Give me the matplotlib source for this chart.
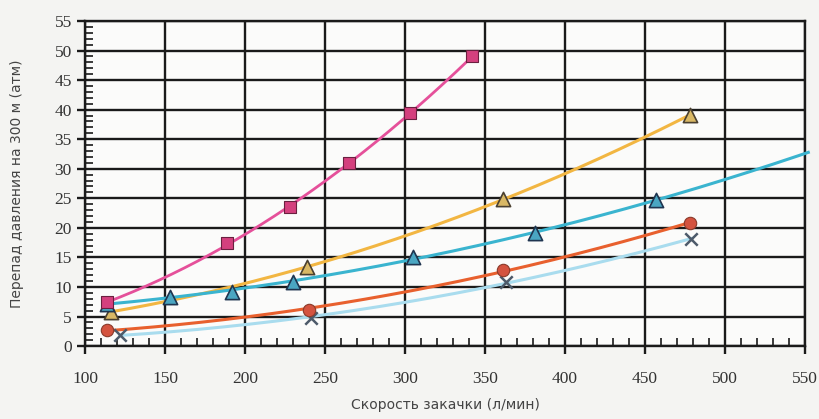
import numpy as np
import matplotlib
matplotlib.use("Agg")
import matplotlib.pyplot as plt
from matplotlib.ticker import MultipleLocator

# Data
pink_x = [114, 189, 228, 265, 303, 342]
pink_y = [7.4, 17.4, 23.5, 30.9, 39.4, 49.0]

yellow_x = [116, 239, 361, 478]
yellow_y = [5.8, 13.4, 24.8, 39.1]

cyan_x = [114, 153, 192, 230, 305, 381, 457]
cyan_y = [7.2, 8.3, 9.2, 10.9, 15.1, 19.1, 24.7]

red_x = [114, 240, 361, 478]
red_y = [2.7, 6.1, 12.9, 20.8]

cross_x = [122, 241, 363, 479]
cross_y = [1.9, 4.7, 10.9, 18.1]

x_ticks = [100, 150, 200, 250, 300, 350, 400, 450, 500, 550]
y_ticks = [0, 5, 10, 15, 20, 25, 30, 35, 40, 45, 50, 55]
xlabel = "Скорость закачки (л/мин)"
ylabel = "Перепад давления на 300 м (атм)"


def trend(xs, ys, x_end=None, deg=2):
    c = np.polyfit(xs, ys, deg)
    x0 = min(xs)
    x1 = max(xs) if x_end is None else x_end
    xx = np.linspace(x0, x1, 200)
    return xx, np.polyval(c, xx)


fig = plt.figure(figsize=(8.19, 4.19), dpi=100, facecolor="#f4f4f2")
ax = fig.add_axes([0.1038, 0.174, 0.8792, 0.776])
ax.set_facecolor("#fbfbfa")

ax.set_xlim(100, 550)
ax.set_ylim(0, 55)
ax.set_xticks(x_ticks)
ax.set_yticks(y_ticks)
ax.xaxis.set_minor_locator(MultipleLocator(10))
ax.yaxis.set_minor_locator(MultipleLocator(1))
ax.grid(True, which="major", color="#1a1a1a", linewidth=1.7, zorder=0)
ax.set_axisbelow(True)
for s in ax.spines.values():
    s.set_color("#1a1a1a")
    s.set_linewidth(1.7)
ax.tick_params(axis="both", which="major", direction="out", length=6, width=1.7,
               color="#1a1a1a", labelsize=12.5, labelcolor="#333333")
ax.tick_params(axis="both", which="minor", direction="in", length=6, width=1.2,
               color="#1a1a1a")
ax.tick_params(axis="x", which="major", pad=12)
for lab in ax.get_xticklabels() + ax.get_yticklabels():
    lab.set_fontfamily("Liberation Serif")

# Lines (trend curves)
xx, yy = trend(pink_x, pink_y)
ax.plot(xx, yy, color="#e5509a", lw=2.0, zorder=3)
xx, yy = trend(yellow_x, yellow_y)
ax.plot(xx, yy, color="#f2b642", lw=2.2, zorder=3)
xx, yy = trend(cyan_x, cyan_y, x_end=552)
ax.plot(xx, yy, color="#3ab4cf", lw=2.2, zorder=3, clip_on=False)
xx, yy = trend(red_x, red_y)
ax.plot(xx, yy, color="#e8602e", lw=2.2, zorder=3)
xx, yy = trend(cross_x, cross_y)
ax.plot(xx, yy, color="#a9dcee", lw=2.2, zorder=3)

# Markers
ax.scatter(cross_x, cross_y, marker="x", s=80, color="#4d5a6a", linewidths=1.8, zorder=5)
ax.scatter(red_x, red_y, marker="o", s=80, color="#d4533f", edgecolors="#8a3a2a",
           linewidths=0.8, zorder=5)
ax.scatter(yellow_x, yellow_y, marker="^", s=105, color="#d9b865", edgecolors="#4a4030",
           linewidths=1.2, zorder=5)
ax.scatter(cyan_x, cyan_y, marker="^", s=105, color="#4aa6c2", edgecolors="#1f3550",
           linewidths=1.2, zorder=6)
ax.scatter(pink_x, pink_y, marker="s", s=85, color="#d4407e", edgecolors="#6a2040",
           linewidths=0.8, zorder=6)

ax.set_xlabel(xlabel, fontsize=10, color="#444444", family="DejaVu Sans", labelpad=8)
ax.set_ylabel(ylabel, fontsize=10, color="#444444", family="DejaVu Sans", labelpad=22)

fig.savefig("out.png", dpi=100, facecolor=fig.get_facecolor())
